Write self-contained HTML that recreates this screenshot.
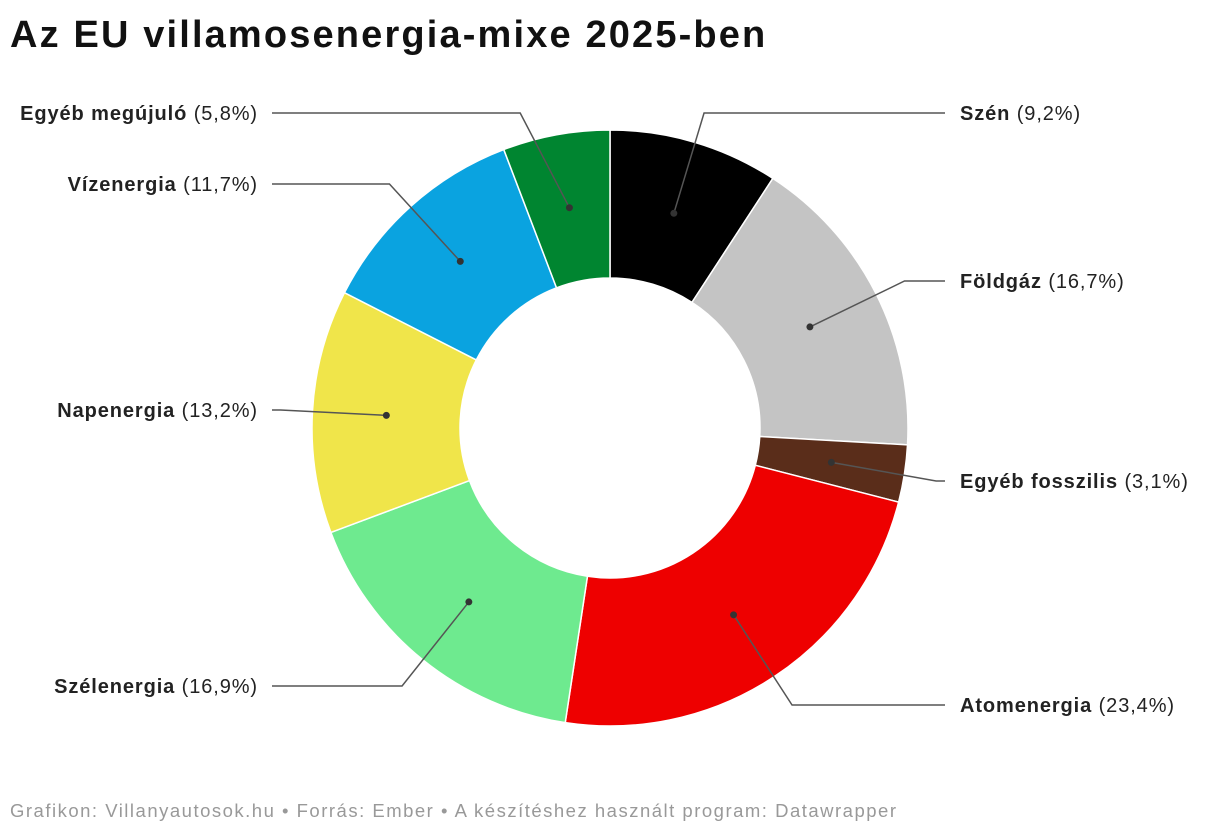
<!DOCTYPE html>
<html><head><meta charset="utf-8"><style>
body{margin:0;width:1220px;height:836px;background:#fff;font-family:"Liberation Sans",sans-serif;overflow:hidden}
#title{position:absolute;left:10px;top:14px;font-size:38px;font-weight:bold;color:#111;letter-spacing:2.15px;white-space:nowrap}
#foot{position:absolute;left:10px;top:800px;font-size:18.5px;color:#999;letter-spacing:1.5px;white-space:nowrap}
svg{position:absolute;left:0;top:0}
</style></head><body>
<div id="title">Az EU villamosenergia-mixe 2025-ben</div>
<svg id="chart" width="1220" height="836"></svg>
<div id="foot">Grafikon: Villanyautosok.hu • Forrás: Ember • A készítéshez használt program: Datawrapper</div>
<script>
const categories=["Szén","Földgáz","Egyéb fosszilis","Atomenergia","Szélenergia","Napenergia","Vízenergia","Egyéb megújuló"];
const values=[9.2,16.7,3.1,23.4,16.9,13.2,11.7,5.8];
const valueLabels=["9,2%","16,7%","3,1%","23,4%","16,9%","13,2%","11,7%","5,8%"];
const colors=["#000000","#c4c4c4","#5a2d1a","#ee0000","#6eea8f","#f0e54a","#0aa3e0","#008530"];
const labelY=[113,281,481,705,686,410,184,113];
const NS="http://www.w3.org/2000/svg";
const svg=document.getElementById('chart');
const cx=610,cy=428,R=298,r0=150,rd=224,re=330;
const total=values.reduce((a,b)=>a+b,0);
function pt(frac,rad){const a=frac*2*Math.PI;return [cx+rad*Math.sin(a),cy-rad*Math.cos(a)];}
let acc=0;
values.forEach((v,i)=>{
  const s=acc/total,e=(acc+v)/total;acc+=v;
  const [x1,y1]=pt(s,R),[x2,y2]=pt(e,R),[x3,y3]=pt(e,r0),[x4,y4]=pt(s,r0);
  const lg=(e-s)>0.5?1:0;
  const p=document.createElementNS(NS,'path');
  p.setAttribute('d',`M${x1},${y1}A${R},${R} 0 ${lg} 1 ${x2},${y2}L${x3},${y3}A${r0},${r0} 0 ${lg} 0 ${x4},${y4}Z`);
  p.setAttribute('fill',colors[i]);p.setAttribute('stroke','#fff');p.setAttribute('stroke-width','1.5');
  
  
  svg.appendChild(p);
  const m=(s+e)/2;const right=m<0.5;
  const [dx,dy]=pt(m,rd);let [ex,ey]=pt(m,re);
  if(i===7) ex-=30;
  const ly=labelY[i];const lx=right?945:272;
  const l=document.createElementNS(NS,'polyline');
  l.setAttribute('points',`${dx},${dy} ${ex},${ly} ${lx},${ly}`);
  l.setAttribute('fill','none');l.setAttribute('stroke','#555');l.setAttribute('stroke-width','1.5');
  
  
  svg.appendChild(l);
  const c=document.createElementNS(NS,'circle');
  c.setAttribute('cx',dx);c.setAttribute('cy',dy);c.setAttribute('r','3.5');c.setAttribute('fill','#333');
  
  
  svg.appendChild(c);
  const t=document.createElementNS(NS,'text');
  t.setAttribute('x',right?960:258);t.setAttribute('y',ly+7);
  t.setAttribute('text-anchor',right?'start':'end');
  t.setAttribute('font-size','20');t.setAttribute('fill','#222');t.setAttribute('letter-spacing','0.9');
  
  
  const b=document.createElementNS(NS,'tspan');b.setAttribute('font-weight','bold');b.textContent=categories[i];
  const n=document.createElementNS(NS,'tspan');n.textContent=' ('+valueLabels[i]+')';
  t.appendChild(b);t.appendChild(n);svg.appendChild(t);
});
</script>
</body></html>
